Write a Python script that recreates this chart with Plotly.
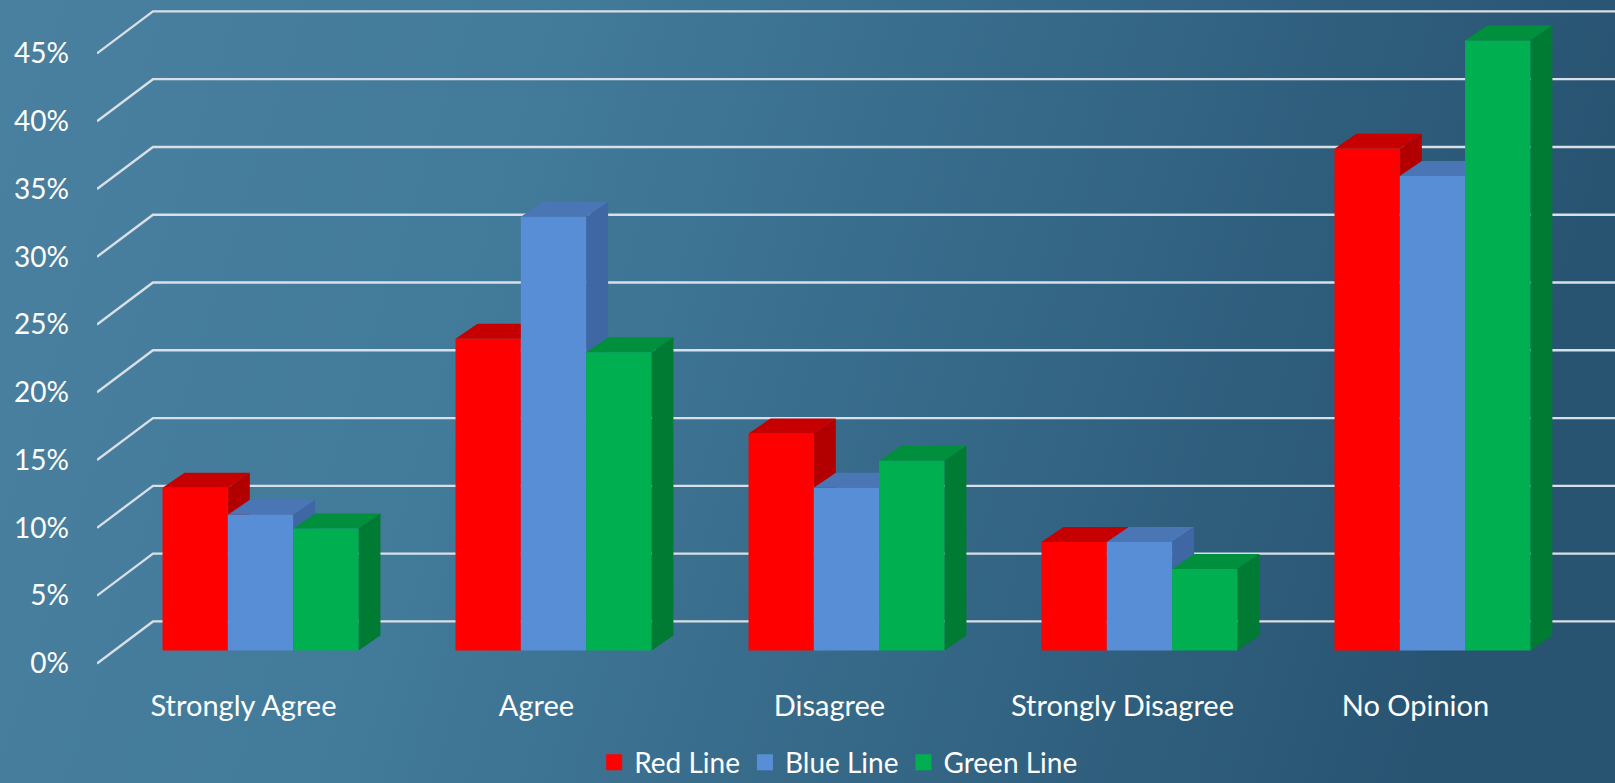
import base64
import plotly.graph_objects as go

# ---------------- data ----------------
categories = ["Strongly Agree", "Agree", "Disagree", "Strongly Disagree", "No Opinion"]
series_names = ["Red Line", "Blue Line", "Green Line"]
red_values = [12, 23, 16, 8, 37]
blue_values = [10, 32, 12, 8, 35]
green_values = [9, 22, 14, 6, 45]
y_tick_values = [0, 5, 10, 15, 20, 25, 30, 35, 40, 45]
y_tick_labels = ["0%", "5%", "10%", "15%", "20%", "25%", "30%", "35%", "40%", "45%"]

# ---------------- style ----------------
front_colors = ["#FF0000", "#578ED6", "#00B050"]
top_colors = ["#C60000", "#4A76B6", "#008F3C"]
side_colors = ["#B20000", "#3F67A3", "#007B33"]
FONT = "Lato"
TEXT_COLOR = "#FFFFFF"
GRID_COLOR = "#D9DFE6"

W_PX, H_PX = 1615, 783
M_L, M_R, M_T, M_B = 97, 0, 0, 106
X_RANGE = [-0.5, 4.681]
Y_RANGE = [-1.0, 48.94]

# oblique "3-D" depth offsets (in axis units)
WALL_DX, WALL_DY = 0.191, 3.10     # floor/back-wall depth
BAR_DX, BAR_DY = 0.058, 0.96       # bar front plane offset from the front edge
TOP_DX, TOP_DY = 0.075, 1.106      # depth of each bar
BAR_W = 0.2229                     # width of each bar

all_values = [red_values, blue_values, green_values]

fig = go.Figure()

# gridlines: diagonal on the side wall + horizontal line on the back wall
gx, gy = [], []
x_left = X_RANGE[0]
x_right = len(categories) - 0.5
for v in y_tick_values:
    gx += [x_left, x_left + WALL_DX, x_right + WALL_DX, None]
    gy += [v, v + WALL_DY, v + WALL_DY, None]
fig.add_trace(go.Scatter(x=gx, y=gy, mode="lines",
                         line=dict(color=GRID_COLOR, width=2.4),
                         hoverinfo="skip", showlegend=False))


def bar_geometry(i, k, v):
    xl = i + BAR_DX + (k - 1.5) * BAR_W
    xr = xl + BAR_W
    y0 = BAR_DY
    y1 = BAR_DY + v
    return xl, xr, y0, y1


# tops and sides, series by series
for k, vals in enumerate(all_values):
    tx, ty, sx, sy = [], [], [], []
    for i, v in enumerate(vals):
        xl, xr, y0, y1 = bar_geometry(i, k, v)
        tx += [xl, xr, xr + TOP_DX, xl + TOP_DX, xl, None]
        ty += [y1, y1, y1 + TOP_DY, y1 + TOP_DY, y1, None]
        sx += [xr, xr + TOP_DX, xr + TOP_DX, xr, xr, None]
        sy += [y0, y0 + TOP_DY, y1 + TOP_DY, y1, y0, None]
    fig.add_trace(go.Scatter(x=tx, y=ty, mode="lines", fill="toself",
                             fillcolor=top_colors[k], line=dict(width=0, color=top_colors[k]),
                             hoverinfo="skip", showlegend=False))
    fig.add_trace(go.Scatter(x=sx, y=sy, mode="lines", fill="toself",
                             fillcolor=side_colors[k], line=dict(width=0, color=side_colors[k]),
                             hoverinfo="skip", showlegend=False))

# front faces
for k, vals in enumerate(all_values):
    fx, fy = [], []
    for i, v in enumerate(vals):
        xl, xr, y0, y1 = bar_geometry(i, k, v)
        fx += [xl, xr, xr, xl, xl, None]
        fy += [y0, y0, y1, y1, y0, None]
    fig.add_trace(go.Scatter(x=fx, y=fy, mode="lines", fill="toself",
                             fillcolor=front_colors[k], line=dict(width=0, color=front_colors[k]),
                             name=series_names[k], hoverinfo="skip", showlegend=False))

# legend keys
for k, name in enumerate(series_names):
    fig.add_trace(go.Scatter(x=[None], y=[None], mode="markers", name=name,
                             marker=dict(symbol="square", size=16, color=front_colors[k],
                                         line=dict(width=0))))

# gradient background
svg = (
    '<svg xmlns="http://www.w3.org/2000/svg" width="1615" height="783" preserveAspectRatio="none">'
    '<defs><linearGradient id="g" x1="0" y1="0" x2="1" y2="0.15">'
    '<stop offset="0" stop-color="#4A809F"/>'
    '<stop offset="0.35" stop-color="#427A9A"/>'
    '<stop offset="1" stop-color="#285472"/>'
    '</linearGradient></defs>'
    '<rect width="1615" height="783" fill="url(#g)"/></svg>'
)
src = "data:image/svg+xml;base64," + base64.b64encode(svg.encode()).decode()
plot_w = W_PX - M_L - M_R
plot_h = H_PX - M_T - M_B

fig.update_layout(
    width=W_PX, height=H_PX,
    margin=dict(l=M_L, r=M_R, t=M_T, b=M_B),
    paper_bgcolor="#3A6C8B",
    plot_bgcolor="rgba(0,0,0,0)",
    font=dict(family=FONT, color=TEXT_COLOR, size=27),
    images=[dict(source=src, xref="paper", yref="paper",
                 x=-M_L / plot_w, y=1 + M_T / plot_h,
                 sizex=W_PX / plot_w, sizey=H_PX / plot_h,
                 xanchor="left", yanchor="top", sizing="stretch", layer="below")],
    xaxis=dict(range=X_RANGE, tickmode="array", tickvals=list(range(len(categories))),
               ticktext=categories, showgrid=False, zeroline=False, showline=False,
               ticks="", ticklabelstandoff=9, tickfont=dict(family=FONT, size=29, color=TEXT_COLOR),
               fixedrange=True),
    yaxis=dict(range=Y_RANGE, tickmode="array", tickvals=y_tick_values, ticktext=y_tick_labels,
               showgrid=False, zeroline=False, showline=False, ticks="",
               ticklabelstandoff=27, tickfont=dict(family=FONT, size=28, color=TEXT_COLOR),
               fixedrange=True),
    legend=dict(orientation="h", xref="container", yref="container",
                x=0.519, y=0.026, xanchor="center", yanchor="middle",
                font=dict(family=FONT, size=28, color=TEXT_COLOR),
                itemsizing="trace", bgcolor="rgba(0,0,0,0)", tracegroupgap=0),
    showlegend=True,
)

fig.write_html("out.html")
